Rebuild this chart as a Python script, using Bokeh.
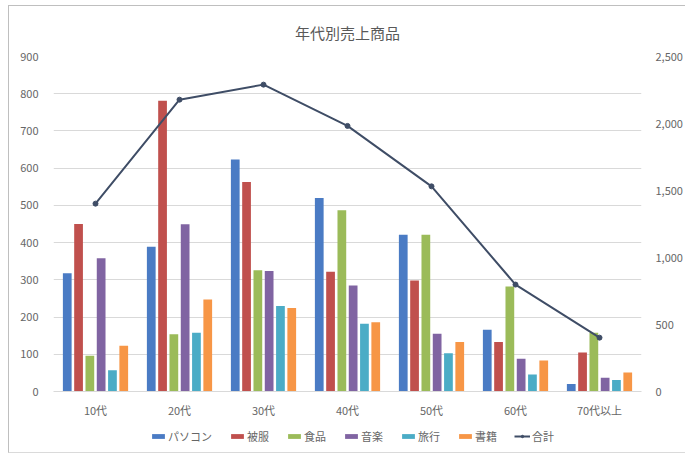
from bokeh.plotting import figure
from bokeh.layouts import column
from bokeh.models import (FactorRange, Range1d, LinearAxis, NumeralTickFormatter,
                          Legend, LegendItem, ColumnDataSource)
from bokeh.transform import dodge
from bokeh.embed import file_html
from bokeh.resources import INLINE

# 年代別売上データ
ages = ["10代", "20代", "30代", "40代", "50代", "60代", "70代以上"]
pc = [318, 389, 623, 520, 421, 166, 20]
clothes = [450, 781, 563, 322, 298, 133, 105]
food = [96, 154, 326, 487, 421, 282, 158]
music = [358, 449, 324, 285, 155, 88, 37]
travel = [57, 158, 230, 182, 103, 46, 31]
books = [123, 247, 224, 186, 133, 83, 51]
total = [1402, 2178, 2290, 1982, 1531, 798, 402]

series_names = ["パソコン", "被服", "食品", "音楽", "旅行", "書籍"]
series_keys = ["pc", "clothes", "food", "music", "travel", "books"]
colors = ["#4A7BC4", "#C0504D", "#9BBB59", "#8064A2", "#4BACC6", "#F79646"]
line_color = "#3F4D66"

FONT = "Noto Sans CJK JP"
GRAY = "#666666"
GRID = "#D9D9D9"
TICK_SIZE = "11px"

source = ColumnDataSource(dict(age=ages, pc=pc, clothes=clothes, food=food,
                               music=music, travel=travel, books=books,
                               total=total))

# chart box offset from the page corner
OX, OY = 9, 6
W = 685 - OX
H_MAIN = 420 - OY
H_LEG = 452 - 420

p = figure(x_range=FactorRange(factors=ages, range_padding=0),
           y_range=Range1d(0, 900),
           width=W, height=H_MAIN,
           output_backend="svg", toolbar_location=None,
           min_border_left=53 - OX, min_border_right=44,
           min_border_top=53 - OY, min_border_bottom=420 - 395)
p.extra_y_ranges = {"total": Range1d(0, 2500)}

p.title.text = "年代別売上商品"
p.title.align = "center"
p.title.text_font = FONT
p.title.text_font_size = "15px"
p.title.text_font_style = "normal"
p.title.text_color = "#595959"
p.title.standoff = 27

p.outline_line_color = None
p.background_fill_color = "white"
p.border_fill_color = "white"

slot = 0.1345
bar_w = 0.104


def draw_series(fig):
    """Clustered bars plus the total line with its markers."""
    bars = []
    for i, (key, c) in enumerate(zip(series_keys, colors)):
        off = (i - 2.5) * slot
        bars.append(fig.vbar(x=dodge("age", off, range=fig.x_range), top=key,
                             width=bar_w, source=source, fill_color=c,
                             line_color=None))
    ln = fig.line(x="age", y="total", source=source, y_range_name="total",
                  line_color=line_color, line_width=2)
    mk = fig.scatter(x="age", y="total", source=source, y_range_name="total",
                     marker="circle", size=5, fill_color=line_color,
                     line_color=line_color)
    return bars, ln, mk


draw_series(p)

# left axis
ya = p.yaxis[0]
ya.ticker.desired_num_ticks = 10
ya.axis_line_color = None
ya.major_tick_line_color = None
ya.minor_tick_line_color = None
ya.major_label_standoff = 9
ya.major_label_text_font = FONT
ya.major_label_text_font_size = TICK_SIZE
ya.major_label_text_color = GRAY

# right axis
ra = LinearAxis(y_range_name="total", formatter=NumeralTickFormatter(format="0,0"))
ra.ticker.desired_num_ticks = 5
ra.axis_line_color = None
ra.major_tick_line_color = None
ra.minor_tick_line_color = None
ra.major_label_standoff = 8
ra.major_label_text_font = FONT
ra.major_label_text_font_size = TICK_SIZE
ra.major_label_text_color = GRAY
p.add_layout(ra, "right")

# category axis
xa = p.xaxis[0]
xa.axis_line_color = GRID
xa.major_tick_line_color = None
xa.minor_tick_line_color = None
xa.major_label_standoff = 4
xa.major_label_text_font = FONT
xa.major_label_text_font_size = TICK_SIZE
xa.major_label_text_color = GRAY

p.xgrid.grid_line_color = None
p.ygrid.grid_line_color = GRID
p.ygrid.grid_line_width = 1

# legend strip under the chart; its own copies of the series lie far below
# its visible y range so only the legend swatches show
lg = figure(width=W, height=H_LEG,
            x_range=FactorRange(factors=ages, range_padding=0),
            y_range=Range1d(5000, 6000),
            x_axis_type=None, y_axis_type=None,
            output_backend="svg", toolbar_location=None,
            min_border=0, outline_line_color=None)
lg.extra_y_ranges = {"total": Range1d(5000, 6000)}
lg.grid.grid_line_color = None
lg_bars, lg_ln, lg_mk = draw_series(lg)
items = [LegendItem(label=n, renderers=[r]) for n, r in zip(series_names, lg_bars)]
items.append(LegendItem(label="合計", renderers=[lg_ln, lg_mk]))
legend = Legend(items=items, orientation="horizontal", location=(97, 8),
                label_text_font=FONT, label_text_font_size="11px",
                label_text_color=GRAY, glyph_width=16, glyph_height=6,
                spacing=17, label_standoff=2, padding=0, margin=0,
                border_line_color=None, background_fill_alpha=0)
lg.add_layout(legend, "center")

layout = column(p, lg, spacing=0)
layout.styles = {"margin-left": "8px", "margin-top": "5px",
                 "border-left": "1px solid #BFBFBF",
                 "border-top": "1px solid #BFBFBF",
                 "border-bottom": "1px solid #DADADA"}

open("out.html", "w").write(file_html(layout, INLINE))
